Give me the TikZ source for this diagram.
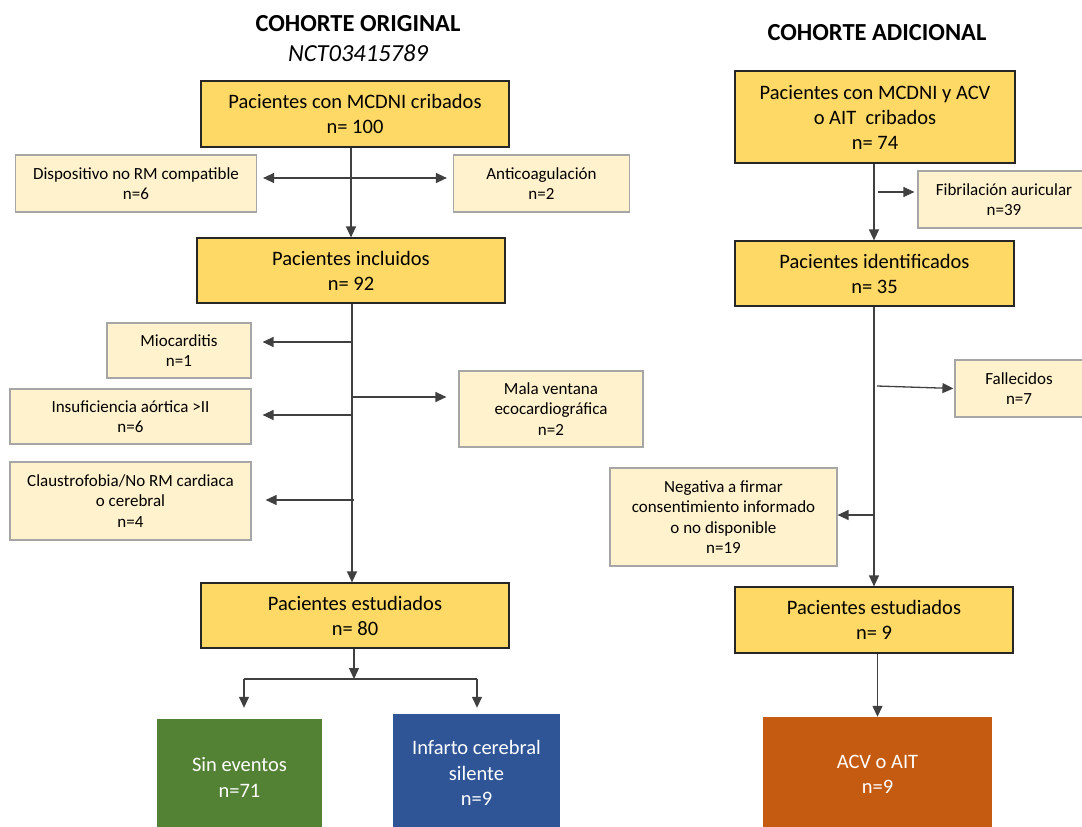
\documentclass[tikz,border=0pt]{standalone}
\usepackage{fontspec}
\setmainfont{Carlito}
\usetikzlibrary{arrows.meta}
\definecolor{ylw}{HTML}{FFD966}
\definecolor{lyl}{HTML}{FFF2CC}
\definecolor{grn}{HTML}{548235}
\definecolor{blu}{HTML}{2F5597}
\definecolor{org}{HTML}{C55A11}
\definecolor{lin}{HTML}{404040}
\definecolor{gbd}{HTML}{A6A6A6}
\newcommand\fsz[2]{\fontsize{#1}{#2}\selectfont}
\tikzset{
  mainbox/.style={draw=black!85, line width=1.2pt, fill=ylw, align=center, inner sep=0pt, font=\fsz{20.5}{25}},
  sidebox/.style={draw=gbd, line width=1.2pt, fill=lyl, align=center, inner sep=0pt, font=\fsz{17}{20.5}},
  colbox/.style={draw=none, align=center, inner sep=0pt, text=white, font=\fsz{20.5}{25.5}},
  arr/.style={draw=lin, line width=1.3pt},
  tip/.style={-{Triangle[length=11pt,width=10pt]}},
  title/.style={inner sep=0pt, font=\fsz{24.5}{28}}
}
\begin{document}
\begin{tikzpicture}[x=1pt,y=-1pt]
\useasboundingbox (0,0) rectangle (1082,827);
\clip (0,0) rectangle (1082,827);

% titles
\node[title] (t1) at (358,24) {\bfseries COHORTE ORIGINAL};
\node[title] (t2) at (358,53) {\itshape NCT03415789};
\node[title] (t3) at (877,33) {\bfseries COHORTE ADICIONAL};

% left column
\node[mainbox, minimum width=308pt, minimum height=66pt] (b1) at (355,114) {Pacientes con MCDNI cribados\\n= 100};
\node[sidebox, minimum width=241pt, minimum height=57pt] (disp) at (136,183.5) {Dispositivo no RM compatible\\n=6};
\node[sidebox, minimum width=176pt, minimum height=57pt] (anti) at (541.5,183.5) {Anticoagulación\\n=2};
\node[mainbox, minimum width=308pt, minimum height=65pt] (b2) at (351,270.5) {Pacientes incluidos\\n= 92};
\node[sidebox, minimum width=144pt, minimum height=55pt] (mio) at (179,350.5) {Miocarditis\\n=1};
\node[sidebox, minimum width=241pt, minimum height=55pt] (insu) at (130.5,416.5) {Insuficiencia aórtica >II\\n=6};
\node[sidebox, minimum width=184pt, minimum height=76pt] (mala) at (551,409) {Mala ventana\\ecocardiográfica\\n=2};
\node[sidebox, minimum width=241pt, minimum height=78pt] (claus) at (130.5,501) {Claustrofobia/No RM cardiaca\\o cerebral\\n=4};
\node[mainbox, minimum width=308pt, minimum height=65pt] (b3) at (355,615.5) {Pacientes estudiados\\n= 80};
\node[colbox, fill=grn, minimum width=165pt, minimum height=117pt] (sin) at (239.5,777.5) {Sin eventos\\n=71};
\node[colbox, fill=blu, minimum width=167pt, minimum height=118pt] (inf) at (476.5,773) {Infarto cerebral\\silente\\n=9};

% right column
\node[mainbox, minimum width=280pt, minimum height=92pt] (r1) at (875,117) {Pacientes con MCDNI y ACV\\o AIT\ \ cribados\\n= 74};
\node[sidebox, minimum width=172pt, minimum height=57pt] (fib) at (1004,199.5) {Fibrilación auricular\\n=39};
\node[mainbox, minimum width=279pt, minimum height=65pt] (r2) at (874.5,273.5) {Pacientes identificados\\n= 35};
\node[sidebox, minimum width=128pt, minimum height=57pt] (fall) at (1019,388.5) {Fallecidos\\n=7};
\node[sidebox, minimum width=227pt, minimum height=98pt] (neg) at (723.5,517) {Negativa a firmar\\consentimiento informado\\o no disponible\\n=19};
\node[mainbox, minimum width=278pt, minimum height=66pt] (r3) at (874,620) {Pacientes estudiados\\n= 9};
\node[colbox, fill=org, minimum width=229pt, minimum height=115pt] (acv) at (877.5,774.5) {ACV o AIT\\n=9};

% left connectors
\coordinate (ta) at (351,178);
\draw[arr, tip] (b2.north |- b1.south) -- (b2.north);
\draw[arr, {Triangle[length=11pt,width=10pt]}-{Triangle[length=11pt,width=10pt]}, shorten <=6pt, shorten >=6pt] (disp.east |- ta) -- (anti.west |- ta);
\coordinate (tb) at (352,0);
\draw[arr, tip] (tb |- b2.south) -- (tb |- b3.north);
\coordinate (jm) at (352,342);
\coordinate (ji) at (352,415);
\coordinate (jv) at (352,397);
\coordinate (jc) at (354,500);
\draw[arr, tip, shorten >=11pt] (jm) -- (jm -| mio.east);
\draw[arr, tip, shorten >=11pt] (ji) -- (ji -| insu.east);
\draw[arr, tip, shorten >=12pt] (jv) -- (jv -| mala.west);
\draw[arr, tip, shorten >=14pt] (jc) -- (jc -| claus.east);
\coordinate (js) at (354,679);
\coordinate (jl) at (244,679);
\coordinate (jr) at (477,679);
\draw[arr, tip] (js |- b3.south) -- (js);
\draw[arr] (jl) -- (jr);
\draw[arr, tip, shorten >=11pt] (jl) -- (jl |- sin.north);
\draw[arr, tip, shorten >=6pt] (jr) -- (jr |- inf.north);

% right connectors
\coordinate (tr) at (874,0);
\draw[arr, tip] (tr |- r1.south) -- (tr |- r2.north);
\coordinate (jf) at (878,192);
\draw[arr, tip, shorten >=3pt] (jf) -- (jf -| fib.west);
\draw[arr, tip] (tr |- r2.south) -- (tr |- r3.north);
\coordinate (jfa) at (877,386);
\draw[arr, tip, shorten >=1pt] (jfa) -- (fall.west);
\coordinate (jn) at (874,515);
\draw[arr, tip] (jn) -- (jn -| neg.east);
\draw[arr, tip] (r3.south -| acv.north) -- (acv.north);
\end{tikzpicture}
\end{document}
